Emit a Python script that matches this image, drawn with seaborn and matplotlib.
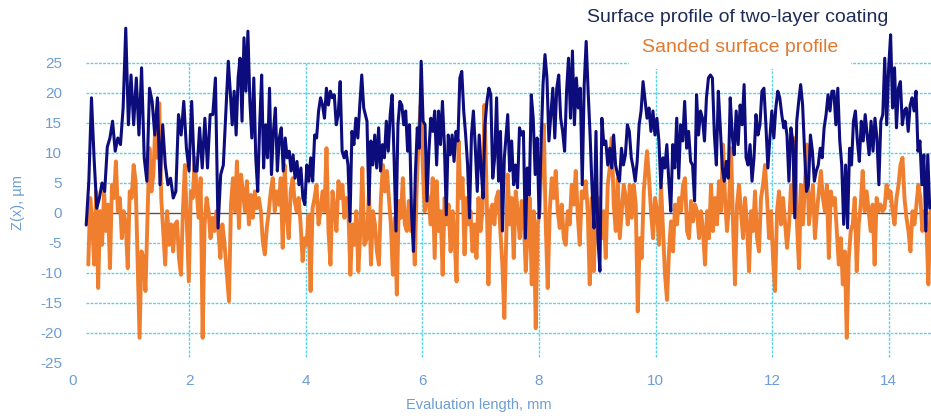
import numpy as np
import pandas as pd
import matplotlib
matplotlib.use('Agg')
import matplotlib.pyplot as plt
import seaborn as sns

BLUE = '#0c0c7c'
ORANGE = '#ef7f2f'
GRID = '#58d2e6'
LABEL = '#6d9dd3'

# x-span (mm) of each stretch of the profile
BLUE_SPANS = [(0.235, 2.587), (2.672, 4.995), (5.051, 7.407),
              (7.465, 9.786), (9.854, 12.199), (12.221, 14.703)]
ORANGE_SPANS = [(0.271, 2.604), (2.684, 5.005), (5.051, 7.407),
                (7.465, 9.798), (9.854, 12.187), (12.256, 14.714)]

# two-layer coating, Z in um
blue_1 = [-2, 5.3, 19.2, 9, 0.8, 2.5, 5, 3.6, 11, 12.5, 15.3, 10.3, 12.5, 11.4,
          17.5, 30.8, 14.7, 23, 14.7, 22.5, 13, 24.2, 9.2, 5.3, 20.8, 18.6, 13,
          19.2, 4.7, 14.7, 8, 4.7, 5.8, 2.5, 3.6, 16.4, 13, 18.6, 10.8, 7, 18.6,
          7, 7, 14.2, 7.5, 15.8, 7.5, 16.4, 16.4, 22.5, -2.5, 6.4, 8]
blue_2 = [25.3, 20.3, 14.7, 20.3, 13, 22.5, 25.8, 15.3, 29.2, 20.3, 30.3, 18.6,
          12.5, 22.5, 9.2, 3.6, 14.7, 23, 7.5, 14.7, 9.2, 20.8, 6.4, 13.6, 17.5,
          7, 12.5, 14.2, 7, 12.5, 9.2, 10.3, 7, 9.7, 5.8, 8.6, 4.7, 7.5, 2.5,
          1.4, 8, 5.3, 9.2, 5.3, 13, 12.5, 17, 19.2, 18, 15.8, 20.8, 18, 20.3,
          19.2, 19.7, 14.7, 16.4, 21.9, 10.3, 9.2, 10.3, 8, -1.4, 13.6, 11.4,
          15.8, 12.5, 18, 23, 17.5]
blue_3 = [15.3, 1.4, 12, 8, 13, 7.5, 14.2, 7, 11.4, 9.2, 15.3, 10.3, 16.4, 19.7,
          9.2, -3, 14.7, 18.6, 18, 14.7, 17, 10.3, 14.7, 0.3, -6.4, 6.4, 14.2,
          10.8, 25.3, 15.3, 14.7, 2, 10.3, 15.8, 13.6, 17, 8, 17, 11.4, 18.6,
          11.4, -0.3, 13, 9.7, 13, 8.6, 13.6, 12, 22.5, 23.6, 17, 13, 8, -0.8,
          13, 17, 10.8, 3.6, 13, 7.5, 2.5, 14.7, 18.6, 20.8, 19.7, 5.8, 9.2,
          19.2, 5.3, 13.6, -3, 9.2]
blue_4 = [16.4, 7, 12, 4.7, 8, 4.2, 14.2, 13, 13.6, -4.2, 7.5, 3, 19.7, 15.8,
          6.4, 12.5, -0.8, 11.4, 21.4, 26.4, 22.5, 12, 16.4, 20.8, 12.5, 20.8,
          23, 15.8, 13.6, 10.3, 20.3, 25.8, 15.8, 27, 14.7, 22.5, 17.5, 20.8,
          4.7, 21.4, 28.6, 20.3, 13, 4.2, -2.5, 13.6, -4.2, -9.7, 15.8, 11.4,
          12, 8, 10.8, 7.5, 13, 8, 6.4, 5.3, 10.8, 8, 9.7, 14.7, 13.6, 9.2, 7.5,
          5.3, 8.6, 14.7, 17, 21.9]
blue_5 = [15.8, 17.5, 13.6, 17, 13, 15.8, 12, 4.2, 9.2, 7.5, 11.4, 5.3, 0.3,
          11.4, 7.5, 15.8, 5.8, 14.7, 12, 18.6, 10.8, 13.6, 8.6, 8, 2, 19.7, 13,
          17, 15.8, 12, 19.2, 22.5, 23, 22.5, 13, 8, 20.3, 14.2, 7.5, 5.3, 8.6,
          5.8, 19.2, 13, 9.7, 17, 11.4, 18, 14.7, 21.4, 9.2, 8, 11.4, 5.3, 9.2,
          16.4, 13, 14.7, 20.3, 20.8, 14.7, 7.5, 12.5, 17, 12.5, 17.5, 20.3,
          19.2, 16.4, 14.2]
blue_6 = [15.3, 13, 5.3, 14.2, 12, -0.8, 15.3, 18.6, 21.4, 18, 10.3, 3.6, 4.7,
          13, 10.3, 5.3, 7, 8, 10.8, 9.2, 14.2, 16.4, 19.7, 17, 20.3, 20.3, 14.7,
          20.8, 12, 8, -1.9, 8, -2.5, 10.8, 8, 15.3, 17, 12, 8.6, 15.3, 12, 16.4,
          13, 9.7, 15.3, 10.3, 15.8, 12.5, 4.7, 15.3, 16.4, 25.8, 14.7, 24.2,
          29.7, 17.5, 24.2, 14.2, 20.8, 21.9, 14.7, 17, 17.5, 13.6, 18, 19.2,
          17, 20.3, 10.3, 12, 4.7, 9.7, -3, 9.7, 0.8]

# sanded surface, Z in um
orange_1 = [-8.6, 2.5, -1.9, -8.6, 3.6, -12.5, 0.3, -5.3, 3.6, -3, 1.4, -9.2,
            4.7, 2.5, 8.6, 0.3, 2.5, -4.2, 0.3, -1.9, -9.2, 3.6, 2.5, 8, 5.3,
            -7.5, -20.8, -6.4, -7.5, -13, -1.4, 10.8, 3.6, 6.4, 14.7, 9.2, 18.3,
            2.5, -3, -8.6, 0.3, -5.3, -1.9, -6.4, -1.9, -1.4, -7.5, -10.3, 0.3,
            8, -1.9, -11.4, 3.6, 2.5, 9.2, 3.6, -0.8, 5.8, -20.8, -1.9, 2.5, 0.3,
            -4.2, -0.8, -3, 0.3, -3, -7.5, -1.9, -4.7]
orange_2 = [-14.7, 1.4, 5.8, 0.3, 8.6, -2.5, 6.4, 3.6, 0.3, 5.3, -1.9, 3, -0.8,
            3.6, 0.8, 2.5, 0.3, -4.7, -6.9, -2.5, 0.3, 3.6, 5.8, 0.3, 3.6, 1.4,
            5.8, -5.8, 8, -0.3, -4.2, 3.6, 5.8, 2, 0.3, 2.5, -1.9, -8, -4.2,
            -5.3, -0.3, -13, 0.8, 2.5, 4.7, -1.9, 0.3, 3.6, 0.3, 10.8, -3, -8.6,
            3.6, 0.8, -3, 5.3, 2.5, 4.7, -0.8, 2.5, 0.3, -10.3, -1.9, -5.3, 0.3,
            -9.7, -3, 7.5, -5.3]
orange_3 = [-4.2, 3.6, -8.6, 0.3, -1.9, -6.4, -8.6, 2.5, 8, 3.6, 7, 2.5, -1.9,
            -10.3, -0.8, -13.6, 2, -0.8, 5.8, -1.9, -3, 2, -3, -0.8, -8.6, 4.7,
            13, 18, 8, 0.3, 3.6, 2, -1.9, 5.8, -7.5, 5.3, -3, 0.3, -10.3, 2.5,
            -1.9, 1.4, -6.4, 0.3, -4.2, -11.4, 12, 2.5, 5.8, -6.9, 2.5, -1.9,
            0.3, -6.4, -1.9, -7.5, 2.5, -3, 0.3, 18, 4.7, -11.9, 0.3, 1.4, -1.9,
            2.5, 3.6, -3, -8.6, -17.5]
orange_4 = [6.4, -1.9, 2.5, -7.5, 3.6, 0.3, -4.2, 2, -0.8, -9.7, -3, 2.5, -11.9,
            0.3, -19.2, -1.9, 0.3, 10.3, 14.7, -1.9, -12.5, 0.3, 5.8, 2.5, 7,
            0.3, -2.5, 1.4, -4.2, -5.3, 0.3, -1.9, 4.7, 1.4, 7, -0.3, -5.3, 3.6,
            2.5, 5.3, 0.3, -11.9, 2.5, -9.7, 0.3, -1.9, 2.5, -4.2, 0.3, -7.5, 4.7,
            7.5, 12.5, 1.4, -3, 5.8, -4.2, 0.3, 4.7, 2.5, -1.9, 4.7, -0.8, 4.7,
            1.4, -16.4, -4.2, -7.5, 3.6]
orange_5 = [10.3, 5.8, 0.3, -4.2, 2.5, 0.3, -5.3, 4.7, -3, -10.3, -14.5, -6.4,
            -1.4, -6.4, 1.4, -1.9, 2.5, 0.3, 4.7, 5.8, -3, -4.2, 2, -1.4, 1.4,
            0.3, -4.2, 0.3, -3, -8.6, 0.3, -4.2, 4.7, -3, 2.5, -1.9, 5.3, 0.3,
            11.4, 2.5, -3, 1.4, 10.8, -1.9, -11.9, 1.4, 4.7, 0.3, -4.2, 2.5, -1.9,
            -9.7, 0.3, -3, 3.6, -4.2, -6.4, 2.5, 4.7, 8, 2.5, -4.2, 0.3, -7.5,
            -13, 0.3, 3.6, -1.9, 2.5]
orange_6 = [-5.8, -1.9, 4.7, 0.3, 12.5, -1.9, -9.2, 4.7, -1.9, 4.7, 11.4, -1.9,
            1.4, 4.7, -4.2, 0.3, 3.6, 7, 2.5, 0.3, 4.7, -7.5, 3.6, 1.4, 2.5, -3,
            -8.6, -4.2, -11.9, -6.4, -20.8, -7.5, -3, -1.9, 2.5, -9.7, -1.9, 1.4,
            7, 0.3, 3.6, 0.3, -3, 1.4, -8.6, 2.5, 0.3, 1.4, 0.3, 0.8, 4.7, 2.5,
            3.6, 0.3, -1.9, 2.5, 4.7, 8, 9.2, 2.5, -0.8, -3, -6.4, 0.3, -1.9, 1.4,
            4.7, 2.5, -3, 0.3, -1.9, -11.9, 0.3]

BLUE_PARTS = [blue_1, blue_2, blue_3, blue_4, blue_5, blue_6]
ORANGE_PARTS = [orange_1, orange_2, orange_3, orange_4, orange_5, orange_6]

X_TICKS = [0, 2, 4, 6, 8, 10, 12, 14]
Y_TICKS = [-25, -20, -15, -10, -5, 0, 5, 10, 15, 20, 25]
X_MAX = 14.725


def profile(spans, parts):
    xs, zs = [], []
    for (x0, x1), vals in zip(spans, parts):
        xs.append(np.linspace(x0, x1, len(vals)))
        zs.append(np.asarray(vals, dtype=float))
    return pd.DataFrame({'x': np.concatenate(xs), 'z': np.concatenate(zs)})


def main():
    sns.set_theme(style='white')
    plt.rcParams['font.family'] = ['Liberation Sans', 'DejaVu Sans']
    plt.rcParams['axes.unicode_minus'] = False

    coat = profile(BLUE_SPANS, BLUE_PARTS)
    sand = profile(ORANGE_SPANS, ORANGE_PARTS)
    x_start = min(coat['x'].min(), sand['x'].min())

    fig = plt.figure(figsize=(9.31, 4.16), dpi=100)
    ax = fig.add_axes([72.5 / 931, 53 / 416, 1 - 72.5 / 931, 345 / 416])

    # grid
    ax.hlines([t for t in Y_TICKS if t not in (0, -25)], x_start, X_MAX,
              colors=GRID, linewidth=1.0, linestyles=(0, (2, 1)), zorder=1)
    ax.vlines(X_TICKS[1:], -24, 25, colors=GRID, linewidth=1.0,
              linestyles=(0, (2, 1)), zorder=1)
    ax.hlines(0, x_start, X_MAX, colors='#555555', linewidth=1.0, zorder=1)

    sns.lineplot(data=coat, x='x', y='z', ax=ax, color=BLUE, linewidth=2.2,
                 estimator=None, sort=False, zorder=3)
    sns.lineplot(data=sand, x='x', y='z', ax=ax, color=ORANGE, linewidth=2.8,
                 estimator=None, sort=False, zorder=2)

    ax.set_xlim(0, X_MAX)
    ax.set_ylim(-25, 32.5)
    ax.set_xticks(X_TICKS)
    ax.set_yticks(Y_TICKS)
    ax.tick_params(length=0, colors=LABEL, labelsize=11)
    ax.tick_params(axis='y', pad=7.5)
    ax.tick_params(axis='x', pad=8)
    ax.set_xlabel('')
    ax.set_ylabel('')
    for s in ax.spines.values():
        s.set_visible(False)

    fig.text(479 / 931, 1 - 405 / 416, 'Evaluation length, mm', color=LABEL,
             fontsize=10.5, ha='center', va='center')
    fig.text(18 / 931, 1 - 203 / 416, 'Z(x), µm', color=LABEL, fontsize=10.5,
             rotation=90, ha='center', va='center')

    fig.text(738 / 931, 1 - 18 / 416, 'Surface profile of two-layer coating',
             color='#1f2b57', fontsize=14, ha='center', va='center', zorder=5)
    fig.text(740 / 931, 1 - 48 / 416, 'Sanded surface profile',
             color='#e07a30', fontsize=14, ha='center', va='center', zorder=5,
             bbox=dict(facecolor='white', edgecolor='none', pad=9))

    fig.savefig('out.png', dpi=100)


if __name__ == '__main__':
    main()
